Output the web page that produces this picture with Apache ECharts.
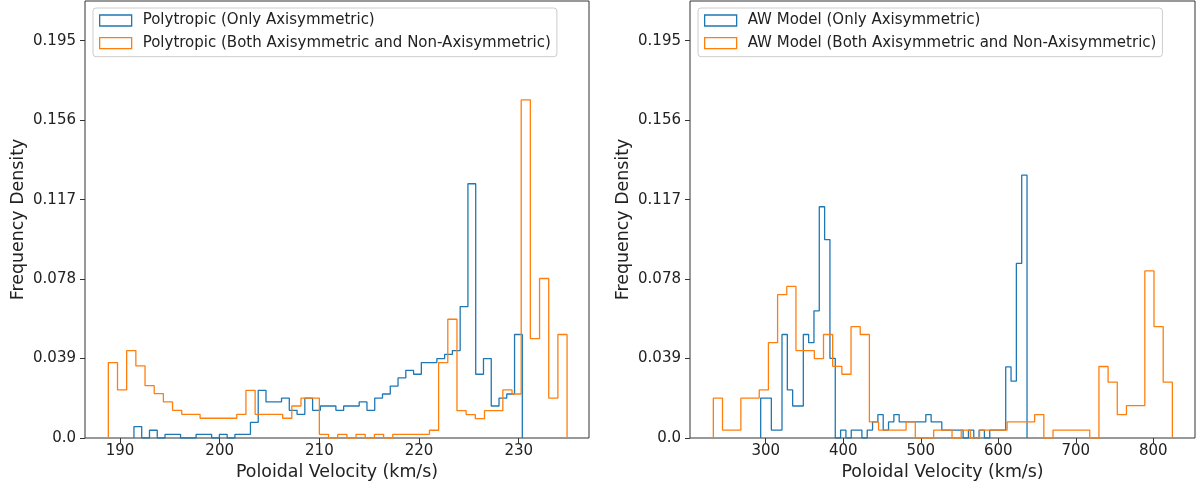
<!DOCTYPE html>
<html>
<head>
<meta charset="utf-8">
<script src="https://cdn.jsdelivr.net/npm/echarts@6/dist/echarts.min.js"></script>
<style>
html, body { margin: 0; padding: 0; background: #fff; }
#chart { width: 1201px; height: 489px; }
</style>
</head>
<body>
<div id="chart"></div>
<script>
// Poloidal velocity distributions drawn as step-histogram outlines (50 equal bins each).

// Shared y ticks (frequency density)
const yTicks = [0, 0.039, 0.078, 0.117, 0.156, 0.195];
const yTickLabels = ['0.0', '0.039', '0.078', '0.117', '0.156', '0.195'];

// x ticks of each panel
const polyTicks = [190, 200, 210, 220, 230];
const awTicks = [300, 400, 500, 600, 700, 800];

// Polytropic model, axisymmetric only: bin range (km/s) and density per bin
const polyAxiRange = [191.40, 230.36];
const polyAxiDensity = [
  0.0056, 0, 0.0038, 0, 0.0018, 0.0018, 0, 0, 0.0018, 0.0018,
  0, 0.0018, 0, 0.0018, 0.0018, 0.0077, 0.0234, 0.0177, 0.0177, 0.0196,
  0.0136, 0.0116, 0.0196, 0.0136, 0.0157, 0.0157, 0.0136, 0.0157, 0.0157, 0.0177,
  0.0136, 0.0196, 0.0216, 0.0255, 0.0295, 0.0332, 0.0313, 0.0370, 0.0370, 0.0390,
  0.0410, 0.0429, 0.0645, 0.1248, 0.0313, 0.0390, 0.0157, 0.0196, 0.0216, 0.0508
];

// Polytropic model, axisymmetric and non-axisymmetric
const polyBothRange = [188.83, 234.85];
const polyBothDensity = [
  0.0370, 0.0236, 0.0429, 0.0354, 0.0257, 0.0218, 0.0177, 0.0136, 0.0116, 0.0116,
  0.0097, 0.0097, 0.0097, 0.0097, 0.0116, 0.0234, 0.0116, 0.0116, 0.0116, 0.0097,
  0.0157, 0.0196, 0.0196, 0.0018, 0, 0.0018, 0, 0.0018, 0, 0.0018,
  0, 0.0018, 0.0018, 0.0018, 0.0018, 0.0038, 0.0370, 0.0583, 0.0134, 0.0115,
  0.0095, 0.0134, 0.0134, 0.0236, 0.0216, 0.1660, 0.0488, 0.0783, 0.0196, 0.0508
];

// AW model, axisymmetric only
const awAxiRange = [293.5, 637.1];
const awAxiDensity = [
  0.0196, 0.0196, 0.0039, 0.0039, 0.0508, 0.0236, 0.0157, 0.0157, 0.0508, 0.0468,
  0.0624, 0.1135, 0.0974, 0.0391, 0, 0.0039, 0, 0.0039, 0.0039, 0,
  0.0039, 0.0079, 0.0115, 0.0039, 0.0079, 0.0115, 0.0079, 0.0079, 0.0079, 0.0079,
  0.0079, 0.0115, 0.0079, 0.0079, 0.0039, 0.0039, 0.0039, 0.0039, 0, 0.0039,
  0, 0.0039, 0, 0.0039, 0.0039, 0.0039, 0.0349, 0.0279, 0.0857, 0.1290
];

// AW model, axisymmetric and non-axisymmetric
const awBothRange = [232.4, 824.6];
const awBothDensity = [
  0.0196, 0.0039, 0.0039, 0.0196, 0.0196, 0.0236, 0.0468, 0.0704, 0.0744, 0.0429,
  0.0429, 0.0390, 0.0508, 0.0352, 0.0313, 0.0547, 0.0508, 0.0079, 0.0039, 0.0039,
  0.0039, 0.0079, 0, 0, 0.0039, 0.0039, 0, 0.0039, 0, 0.0039,
  0.0039, 0.0039, 0.0079, 0.0079, 0.0079, 0.0115, 0, 0.0039, 0.0039, 0.0039,
  0.0039, 0, 0.0351, 0.0274, 0.0115, 0.0159, 0.0159, 0.0820, 0.0547, 0.0274
];

const BLUE = '#1f77b4';
const ORANGE = '#ff7f0e';
const FONT = 'DejaVu Sans';
const INK = '#222222';

// Outline points of a histogram: rise at the first edge, one point per bin, fall at the last edge.
function stepOutline(range, heights) {
  const n = heights.length;
  const w = (range[1] - range[0]) / n;
  const pts = [[range[0], 0]];
  for (let i = 0; i < n; i++) pts.push([range[0] + i * w, heights[i]]);
  pts.push([range[1], heights[n - 1]]);
  pts.push([range[1], 0]);
  return pts;
}

function yLabel(v) {
  for (let i = 0; i < yTicks.length; i++) {
    if (Math.abs(yTicks[i] - v) < 1e-9) return yTickLabels[i];
  }
  return '';
}

function xAxisFor(gridIndex, min, max, ticks) {
  return {
    gridIndex, type: 'value', min, max,
    axisLine: { show: false },
    splitLine: { show: false },
    axisTick: { show: true, length: 5, customValues: ticks, lineStyle: { color: '#333', width: 1 } },
    axisLabel: { customValues: ticks, fontSize: 15, color: INK, margin: 6, fontFamily: FONT },
    name: 'Poloidal Velocity (km/s)',
    nameLocation: 'middle', nameGap: 25,
    nameTextStyle: { fontSize: 17.4, color: INK, fontFamily: FONT }
  };
}

function yAxisFor(gridIndex) {
  return {
    gridIndex, type: 'value', min: 0, max: 0.2145,
    axisLine: { show: false },
    splitLine: { show: false },
    axisTick: { show: true, length: 5, customValues: yTicks, lineStyle: { color: '#333', width: 1 } },
    axisLabel: { customValues: yTicks, formatter: yLabel, fontSize: 15, color: INK, margin: 9, fontFamily: FONT },
    name: 'Frequency Density',
    nameLocation: 'middle', nameGap: 58,
    nameTextStyle: { fontSize: 17.4, color: INK, fontFamily: FONT }
  };
}

function legendFor(left, names) {
  return {
    left, top: 8, orient: 'vertical', selectedMode: false,
    itemWidth: 32, itemHeight: 11, itemGap: 7.7,
    padding: [5, 6, 6, 6],
    backgroundColor: 'rgba(255,255,255,0.8)',
    borderColor: '#cccccc', borderWidth: 1, borderRadius: 3,
    textStyle: { fontSize: 15, lineHeight: 15, color: INK, fontFamily: FONT, padding: [0, 0, 0, 6] },
    data: names.map((n, i) => ({
      name: n, icon: 'rect',
      itemStyle: { color: '#ffffff', borderColor: i === 0 ? BLUE : ORANGE, borderWidth: 1.3 }
    }))
  };
}

function stepSeries(name, axisIndex, range, heights, color) {
  return {
    name, type: 'line', step: 'end',
    xAxisIndex: axisIndex, yAxisIndex: axisIndex,
    showSymbol: false, symbol: 'none',
    lineStyle: { color, width: 1.3 },
    itemStyle: { color },
    data: stepOutline(range, heights)
  };
}

const namesPoly = ['Polytropic (Only Axisymmetric)', 'Polytropic (Both Axisymmetric and Non-Axisymmetric)'];
const namesAW = ['AW Model (Only Axisymmetric)', 'AW Model (Both Axisymmetric and Non-Axisymmetric)'];

const chart = echarts.init(document.getElementById('chart'), null, { renderer: 'canvas' });
chart.setOption({
  animation: false,
  backgroundColor: '#ffffff',
  grid: [
    { left: 85, top: 1, width: 504, height: 437, show: true, borderColor: '#333', borderWidth: 1, backgroundColor: 'transparent' },
    { left: 690, top: 1, width: 505, height: 437, show: true, borderColor: '#333', borderWidth: 1, backgroundColor: 'transparent' }
  ],
  xAxis: [
    xAxisFor(0, 186.49, 237.05, polyTicks),
    xAxisFor(1, 202.3, 853.8, awTicks)
  ],
  yAxis: [yAxisFor(0), yAxisFor(1)],
  legend: [legendFor(93, namesPoly), legendFor(698, namesAW)],
  series: [
    stepSeries(namesPoly[0], 0, polyAxiRange, polyAxiDensity, BLUE),
    stepSeries(namesPoly[1], 0, polyBothRange, polyBothDensity, ORANGE),
    stepSeries(namesAW[0], 1, awAxiRange, awAxiDensity, BLUE),
    stepSeries(namesAW[1], 1, awBothRange, awBothDensity, ORANGE)
  ]
});
</script>
</body>
</html>
